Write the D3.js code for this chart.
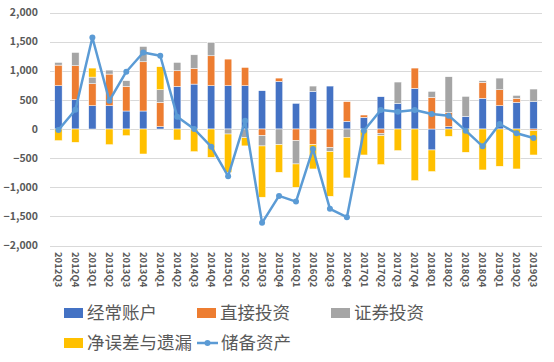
<!DOCTYPE html>
<html>
<head>
<meta charset="utf-8">
<script src="https://cdn.jsdelivr.net/npm/d3@7"></script>
<style>
body { margin: 0; background: #fff; }
text { font-family: "Noto Sans CJK SC", "Noto Sans", sans-serif; }
</style>
</head>
<body>
<div id="chart"></div>
<script>
var quarters = ["2012Q3","2012Q4","2013Q1","2013Q2","2013Q3","2013Q4","2014Q1","2014Q2","2014Q3","2014Q4",
"2015Q1","2015Q2","2015Q3","2015Q4","2016Q1","2016Q2","2016Q3","2016Q4","2017Q1","2017Q2",
"2017Q3","2017Q4","2018Q1","2018Q2","2018Q3","2018Q4","2019Q1","2019Q2","2019Q3"];

var current = [743,503,400,400,309,309,40,731,771,743,743,743,657,817,440,646,737,131,200,554,440,697,-360,40,217,526,400,457,469];
var fdi = [354,583,377,543,422,845,417,269,269,514,457,314,-114,57,-200,-269,-320,338,40,-74,0,349,543,246,0,274,274,69,-30];
var portfolio = [46,228,114,68,98,263,217,143,234,229,-86,-150,-177,-269,-400,91,-69,-143,-15,-40,366,0,103,611,343,29,200,51,217];
var errors = [-200,-229,155,-269,-114,-429,395,-189,-389,-486,-657,-140,-880,-474,-400,-417,-766,-697,-431,-497,-371,-886,-371,-126,-400,-703,-640,-686,-416];
var reserve = [-17,331,1571,486,983,1314,1257,211,0,-303,-811,140,-1611,-1149,-1246,-343,-1371,-1514,-29,326,297,326,257,229,-29,-297,86,-74,-154];

var yTicks = [-2000,-1500,-1000,-500,0,500,1000,1500,2000];
var keys = ["经常账户","直接投资","证券投资","净误差与遗漏"];
var colors = ["#4472C4","#ED7D31","#A5A5A5","#FFC000"];
var lineName = "储备资产";

(function () {
var width = 554, height = 362;
var svg = d3.select("#chart").append("svg")
.attr("width", width)
.attr("height", height);

var x = d3.scaleBand().domain(quarters).range([50, 542]).paddingInner(0.565).paddingOuter(0.28);
var y = d3.scaleLinear().domain([-2000, 2000]).range([245.5, 12.5]);

var rows = quarters.map(function(q, i){
	return {q: q, "经常账户": current[i], "直接投资": fdi[i], "证券投资": portfolio[i], "净误差与遗漏": errors[i]};
});

svg.append("g")
.selectAll("line")
.data(yTicks)
.enter().append("line")
.attr("x1", 50).attr("x2", 542)
.attr("y1", function(d){ return Math.round(y(d)) + 0.5 })
.attr("y2", function(d){ return Math.round(y(d)) + 0.5 })
.attr("stroke", "#d9d9d9")
.attr("stroke-width", 1);

svg.append("g")
.selectAll("text")
.data(yTicks)
.enter().append("text")
.attr("x", 38)
.attr("y", function(d){ return y(d) })
.attr("dy", "0.35em")
.attr("text-anchor", "end")
.attr("font-size", 10.5)
.attr("font-weight", "bold")
.attr("fill", "#595959")
.text(d3.format(","));

var stack = d3.stack().keys(keys).offset(d3.stackOffsetDiverging)(rows);

svg.append("g")
.selectAll("g")
.data(stack)
.enter().append("g")
.attr("fill", function(d, i){ return colors[i] })
.selectAll("rect")
.data(function(d){ return d })
.enter().append("rect")
.attr("x", function(d){ return x(d.data.q) })
.attr("width", x.bandwidth())
.attr("y", function(d){ return y(Math.max(d[0], d[1])) })
.attr("height", function(d){ return Math.abs(y(d[0]) - y(d[1])) })
.attr("stroke", "#fff")
.attr("stroke-width", 0.5);

var line = d3.line()
.x(function(d, i){ return x(quarters[i]) + x.bandwidth()/2 })
.y(function(d){ return y(d) });

svg.append("path")
.datum(reserve)
.attr("d", line)
.attr("fill", "none")
.attr("stroke", "#5B9BD5")
.attr("stroke-width", 2.5)
.attr("stroke-linejoin", "round");

svg.append("g")
.selectAll("circle")
.data(reserve)
.enter().append("circle")
.attr("cx", function(d, i){ return x(quarters[i]) + x.bandwidth()/2 })
.attr("cy", function(d){ return y(d) })
.attr("r", 3)
.attr("fill", "#5B9BD5");

svg.append("g")
.selectAll("text")
.data(quarters)
.enter().append("text")
.attr("transform", function(d){ return "translate(" + (x(d) + x.bandwidth()/2) + ",252) rotate(90)" })
.attr("dy", "0.35em")
.attr("text-anchor", "start")
.attr("font-size", 9.5)
.attr("font-weight", "bold")
.attr("fill", "#595959")
.text(function(d){ return d });

// legend
var legendPos = [[64, 313], [197, 313], [331, 313], [64, 343]];
var legend = svg.append("g");
keys.forEach(function(k, i){
	legend.append("rect")
	.attr("x", legendPos[i][0]).attr("y", legendPos[i][1] - 5)
	.attr("width", 19).attr("height", 10)
	.attr("fill", colors[i]);
	legend.append("text")
	.attr("x", legendPos[i][0] + 23).attr("y", legendPos[i][1])
	.attr("dy", "0.36em")
	.attr("font-size", 17.5)
	.attr("fill", "#595959")
	.text(k);
});
legend.append("line")
.attr("x1", 197).attr("x2", 218)
.attr("y1", 343).attr("y2", 343)
.attr("stroke", "#5B9BD5").attr("stroke-width", 2.5);
legend.append("circle")
.attr("cx", 207.5).attr("cy", 343).attr("r", 3)
.attr("fill", "#5B9BD5");
legend.append("text")
.attr("x", 221).attr("y", 343)
.attr("dy", "0.36em")
.attr("font-size", 17.5)
.attr("fill", "#595959")
.text(lineName);
})();
</script>
</body>
</html>
